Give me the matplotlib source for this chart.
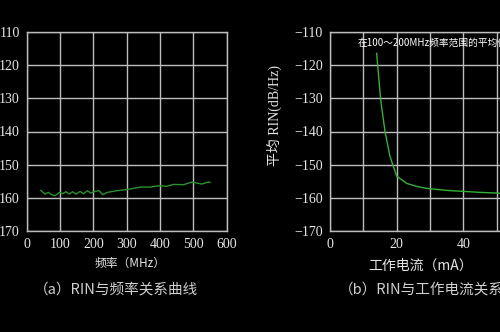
import matplotlib
matplotlib.use("Agg")
import matplotlib.pyplot as plt

# ---- data ----
freq_mhz = [42, 55, 65, 75, 85, 98, 108, 118, 128, 138, 148, 160, 170, 182, 192,
            205, 217, 228, 242, 270, 280, 310, 340, 370, 400, 420, 440, 470, 495,
            525, 545, 550]
rin_freq = [-157.7, -158.8, -158.3, -159.0, -159.3, -158.3, -158.7, -158.1, -158.8,
            -158.1, -158.8, -158.0, -158.7, -157.8, -158.5, -158.0, -157.8, -159.0,
            -158.3, -157.8, -157.7, -157.3, -156.7, -156.7, -156.3, -156.5, -155.9,
            -156.0, -155.2, -155.8, -155.2, -155.3]

current_ma = [14.0, 15.2, 16.5, 18.0, 20.0, 23.0, 26.0, 29.0, 32.0, 35.0, 40.0, 45.0,
              50.0, 55.0, 60.0]
rin_current = [-116.5, -130.5, -140.0, -147.5, -153.4, -155.6, -156.5, -157.1, -157.4,
               -157.7, -158.0, -158.3, -158.5, -158.6, -158.7]

freq_ticks = [0, 100, 200, 300, 400, 500, 600]
current_ticks = [0, 20, 40]
current_grid = [0, 10, 20, 30, 40, 50, 60]
rin_ticks = [-170, -160, -150, -140, -130, -120, -110]
# left panel: the minus signs are cropped away in the reference
rin_labels_a = ["170", "160", "150", "140", "130", "120", "110"]
rin_labels_b = ["\u2212170", "\u2212160", "\u2212150", "\u2212140", "\u2212130",
                "\u2212120", "\u2212110"]

xlabel_a = "频率（MHz）"
caption_a = "（a）RIN与频率关系曲线"
ylabel_b = "平均 RIN(dB/Hz)"
xlabel_b = "工作电流（mA）"
caption_b = "（b）RIN与工作电流关系曲线"
note_b = "在100～200MHz频率范围的平均值"

# ---- style ----
W, H = 500, 332
serif = ["Liberation Serif", "Noto Sans CJK SC"]
sans = ["Noto Sans CJK SC", "DejaVu Sans"]
plt.rcParams["font.family"] = serif
fig = plt.figure(figsize=(5.0, 3.32), dpi=100, facecolor="black")
txt = "#e6e6e6"
gridc = "#bdbdbd"


def px(x0, y0, w, h):
    return [x0 / W, (H - y0 - h) / H, w / W, h / H]


def style(ax):
    ax.set_facecolor("black")
    for s in ax.spines.values():
        s.set_color(gridc)
        s.set_linewidth(1.0)
    ax.grid(True, color=gridc, linewidth=1.0)
    ax.set_axisbelow(True)
    ax.tick_params(length=0, pad=5, colors=txt, labelsize=10)


# left axes
ax1 = fig.add_axes(px(26.7, 31.7, 200, 199.6))
ax1.plot(freq_mhz, rin_freq, color="#2a922a", linewidth=1.0)
ax1.set_xlim(0, 600)
ax1.set_ylim(-170, -110)
ax1.set_xticks(freq_ticks)
ax1.set_yticks(rin_ticks)
ax1.set_yticklabels(rin_labels_a)
style(ax1)

# right axes (extends past the right edge like the cropped original)
ax2 = fig.add_axes(px(330, 31.7, 200, 199.6))
ax2.plot(current_ma, rin_current, color="#36b036", linewidth=1.0)
ax2.set_xlim(0, 60)
ax2.set_ylim(-170, -110)
ax2.set_xticks(current_grid)
ax2.set_xticklabels([str(v) if v in current_ticks else "" for v in current_grid])
ax2.set_yticks(rin_ticks)
ax2.set_yticklabels(rin_labels_b)
style(ax2)

# texts
fig.text(130 / W, 1 - 263 / H, xlabel_a, color=txt, fontsize=8.5, family=sans,
         ha="center", va="center")
fig.text(116 / W, 1 - 290 / H, caption_a, color="#d0d0d0", fontsize=10.5, family=sans,
         ha="center", va="center")
fig.text(274 / W, 1 - 116 / H, ylabel_b, color=txt, fontsize=10, family=serif,
         rotation=90, ha="center", va="center")
fig.text(421 / W, 1 - 266 / H, xlabel_b, color=txt, fontsize=10, family=sans,
         ha="center", va="center")
fig.text(339 / W, 1 - 290 / H, caption_b, color="#d0d0d0", fontsize=10.5, family=sans,
         ha="left", va="center")
ax2.text(8.3, -113.4, note_b, color="white", fontsize=7.0, family=sans,
         ha="left", va="center")

fig.savefig("out.png", dpi=100, facecolor="black")
